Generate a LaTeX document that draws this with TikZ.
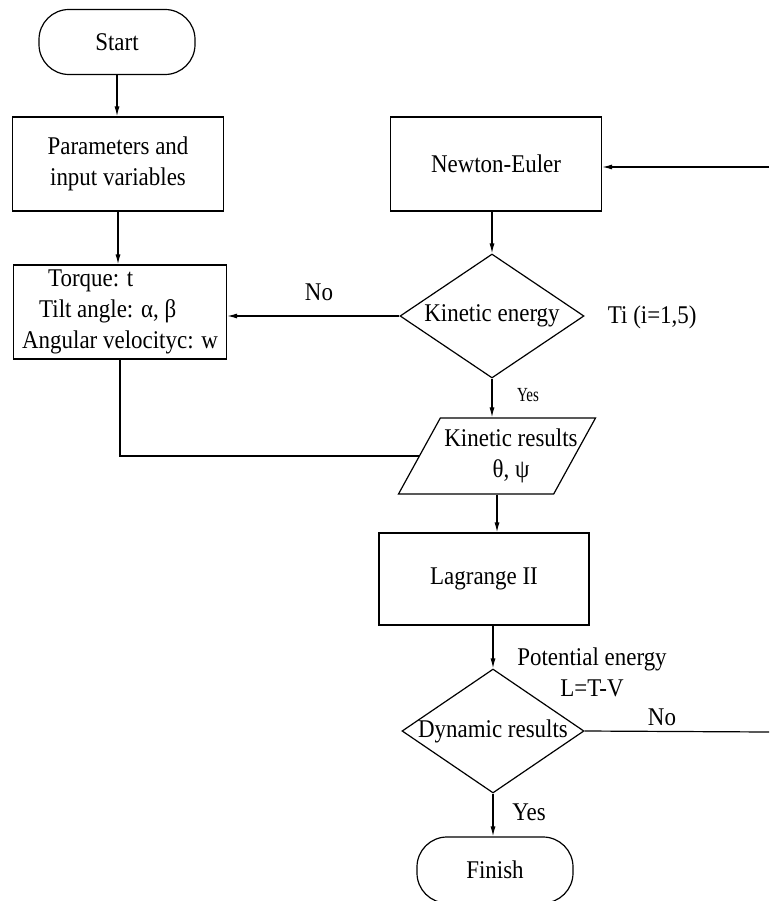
\documentclass[tikz,border=0pt]{standalone}
\usepackage{fontspec}
\setmainfont[FakeStretch=0.9]{Liberation Serif}
\usetikzlibrary{shapes.geometric,arrows.meta}

\begin{document}
\begin{tikzpicture}[x=1pt,y=-1pt,line width=1.2pt,
        every node/.style={font=\fontsize{25.5}{31}\selectfont},
        box/.style={draw, minimum width=211pt, minimum height=94pt, align=center},
        terminal/.style={draw, rounded corners=30pt, minimum width=156pt, minimum height=65pt},
        decision/.style={draw, diamond, inner sep=0pt, minimum width=184pt, minimum height=124pt},
        iobox/.style={draw, trapezium, trapezium left angle=56, trapezium right angle=124,
            trapezium stretches body, inner sep=0pt, minimum width=197pt, minimum height=76pt},
        flow/.style={-{Latex[length=10pt,width=5pt]}},
        small/.style={font=\fontsize{20}{24}\selectfont\addfontfeature{FakeStretch=0.75}}]
        \useasboundingbox (0,0) rectangle (769,901);
        % left column
        \node[terminal] (start) at (117,42) {Start};
        \node[box] (params) at (118,164) {Parameters and\\input variables};
        \node[box, align=left, minimum width=213pt] (torque) at (120,312)
            {\hspace*{26pt}Torque: t\\\hspace*{17pt}Tilt angle: α, β\\Angular velocityc: w};
        % right column
        \node[box] (ne) at (496,164) {Newton-Euler};
        \node[decision] (kin) at (492,316) {\makebox[0pt]{Kinetic energy}};
        \node[iobox] (kres) at (497,456)
            {\makebox[0pt]{\hspace*{28pt}\begin{tabular}{@{}c@{}}Kinetic results\\θ, ψ\end{tabular}}};
        \node[box, minimum width=210pt, minimum height=92pt] (lag) at (484,579) {Lagrange II};
        \node[decision, minimum width=182pt] (dyn) at (493,731) {\makebox[0pt]{Dynamic results}};
        \node[terminal, minimum height=66pt] (finish) at (495,870) {Finish};
        \coordinate (neIn) at (769,167);
        \coordinate (dynOut) at (769,732);
        % labels
        \node (noKin) at (319,292) {No};
        \node[anchor=west] (ti) at (604,317) {Ti (i=1,5)};
        \node[small] (yesKin) at (528,395) {Yes};
        \node[align=center] (pot) at (592,672) {Potential energy\\L=T-V};
        \node (noDyn) at (662,717) {No};
        \node (yesDyn) at (529,812) {Yes};
        % connectors
        \draw[flow] (start.south) -- (start.south |- params.north);
        \draw[flow] (params.south) -- (params.south |- torque.north);
        \draw[flow] (neIn) -- (neIn -| ne.east);
        \draw[flow] (ne.south -| kin.north) -- (kin.north);
        \draw[flow] (kin.west) -- (kin.west -| torque.east);
        \draw[flow] (kin.south) -- (kin.south |- kres.north);
        \draw (torque.south) |- (kres.west);
        \draw[flow] (kres.south) -- (kres.south |- lag.north);
        \draw[flow] (lag.south -| dyn.north) -- (dyn.north);
        \draw[flow] (dyn.south) -- (dyn.south |- finish.north);
        \draw (dyn.east) -- (dynOut);
\end{tikzpicture}
\end{document}
